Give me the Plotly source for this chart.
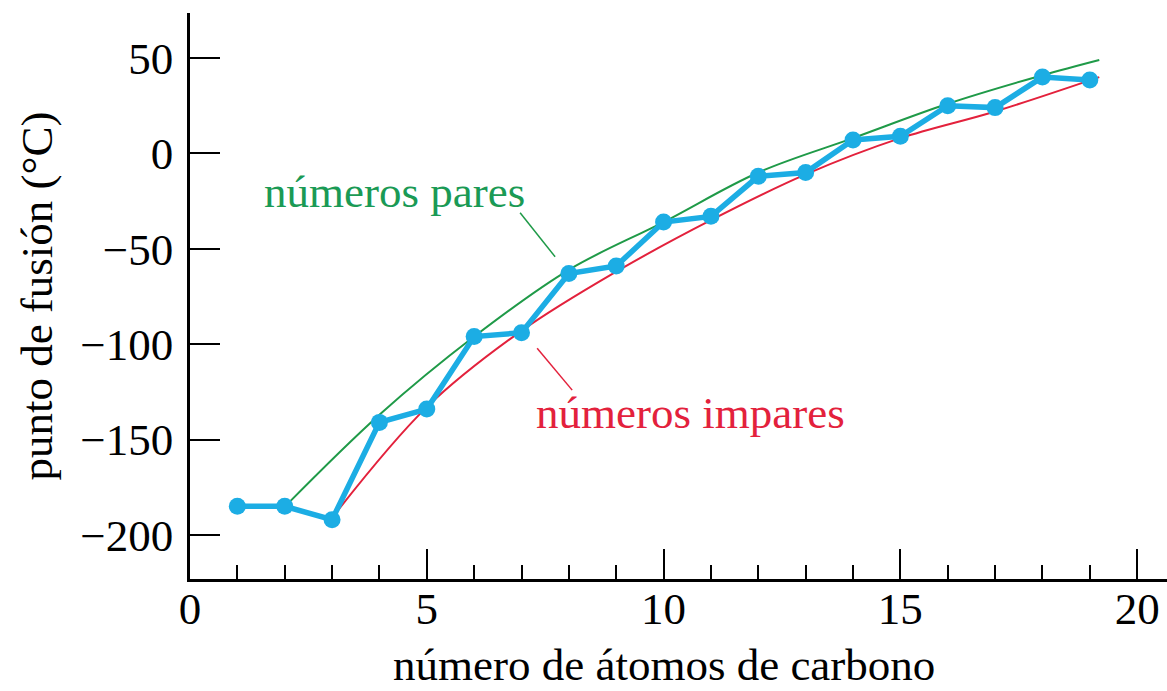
import plotly.graph_objects as go

# Data
carbonos = list(range(1, 20))
punto_fusion = [-185, -185, -192, -141, -134, -96, -94, -63, -59, -36,
                -33, -12, -10, 7, 9, 25, 24, 40, 38.5]

# smooth trend curves
pares_x = [2.05, 4, 6, 8, 10, 12, 14, 16, 18, 19.2]
pares_y = [-184, -137, -96, -61, -36, -10, 8, 26, 41, 49]
impares_x = [3, 5, 7, 9, 11, 13, 15, 17, 19.2]
impares_y = [-191, -133, -93, -62, -35, -11, 8, 22, 40]

x_ticks = [0, 5, 10, 15, 20]
y_ticks = [-200, -150, -100, -50, 0, 50]

FONT = "Liberation Serif, Times New Roman, serif"
FS = 45
BLUE = "#1cade4"
GREEN = "#1f9a48"
GREEN_TXT = "#1a9a55"
RED = "#e3213c"

fig = go.Figure()
fig.add_trace(go.Scatter(x=pares_x, y=pares_y, mode="lines",
                         line=dict(color=GREEN, width=2, shape="spline", smoothing=1.0),
                         hoverinfo="skip", showlegend=False))
fig.add_trace(go.Scatter(x=impares_x, y=impares_y, mode="lines",
                         line=dict(color=RED, width=2, shape="spline", smoothing=1.0),
                         hoverinfo="skip", showlegend=False))
fig.add_trace(go.Scatter(x=carbonos, y=punto_fusion, mode="lines+markers",
                         line=dict(color=BLUE, width=5.5),
                         marker=dict(color=BLUE, size=17),
                         showlegend=False))

# labels with leader lines
fig.add_annotation(x=1.52, y=-20, xref="x", yref="y", text="números pares",
                   showarrow=False, xanchor="left", yanchor="middle",
                   font=dict(family=FONT, size=FS, color=GREEN_TXT))
fig.add_annotation(x=7.27, y=-136, xref="x", yref="y", text="números impares",
                   showarrow=False, xanchor="left", yanchor="middle",
                   font=dict(family=FONT, size=FS, color=RED))
fig.add_shape(type="line", xref="x", yref="y", x0=6.97, y0=-31.1, x1=7.71, y1=-54.2,
              line=dict(color=GREEN, width=1.5))
fig.add_shape(type="line", xref="x", yref="y", x0=7.33, y0=-102.1, x1=8.07, y1=-124.1,
              line=dict(color=RED, width=1.5))

# x-axis title placed under the axis, centred on x = 10 as in the reference
fig.add_annotation(x=10, y=-0.152, xref="x", yref="paper",
                   text="número de átomos de carbono", showarrow=False,
                   xanchor="center", yanchor="middle",
                   font=dict(family=FONT, size=FS, color="black"))

fig.update_layout(
    width=1167, height=691,
    margin=dict(l=190, r=0, t=13, b=112),
    paper_bgcolor="white", plot_bgcolor="white",
    font=dict(family=FONT, size=FS, color="black"),
    xaxis=dict(range=[0, 20.63], tickmode="array", tickvals=x_ticks,
               ticks="inside", ticklen=30, tickwidth=2, tickcolor="black",
               minor=dict(dtick=1, tick0=0, ticks="inside", ticklen=14,
                          tickwidth=2, tickcolor="black"),
               showline=True, linewidth=2.5, linecolor="black",
               showgrid=False, zeroline=False, automargin=False,
               ticklabelstandoff=-12,
               tickfont=dict(family=FONT, size=FS)),
    yaxis=dict(range=[-223.1, 73.6], tickmode="array", tickvals=y_ticks,
               ticks="inside", ticklen=30, tickwidth=2, tickcolor="black",
               showline=True, linewidth=2.5, linecolor="black",
               showgrid=False, zeroline=False, automargin=False,
               ticklabelstandoff=5,
               tickfont=dict(family=FONT, size=FS),
               title=dict(text="punto de fusión (°C)",
                          font=dict(family=FONT, size=FS), standoff=14)),
)

fig.write_html("out.html",
               config={"displayModeBar": False},
               post_script="document.body.style.margin='0';document.body.style.overflow='hidden';")
